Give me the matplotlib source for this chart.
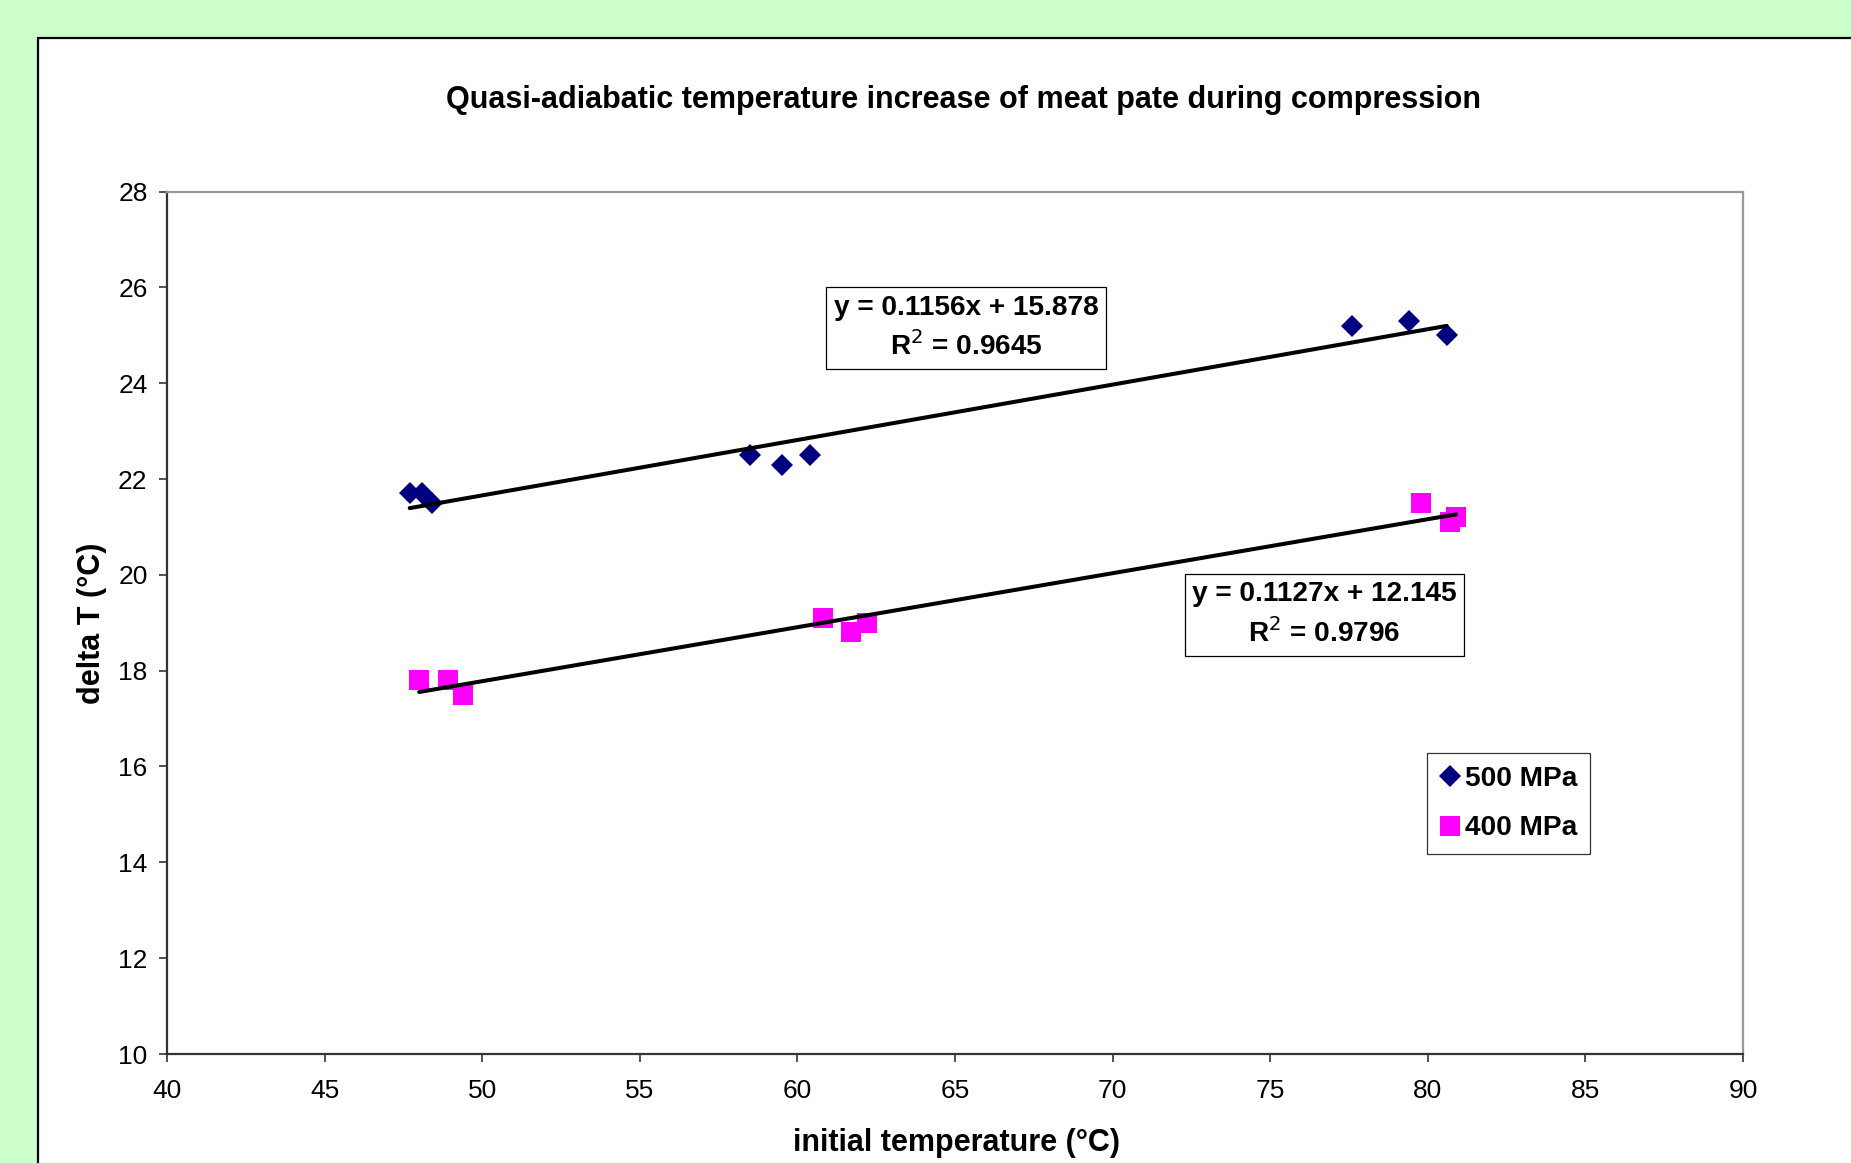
import numpy as np
import matplotlib
matplotlib.use("Agg")
import matplotlib.pyplot as plt
from matplotlib.patches import Rectangle

plt.rcParams['font.family'] = ['Liberation Sans', 'DejaVu Sans']

# 500 MPa series
x500 = [47.7, 48.1, 48.4, 58.5, 59.5, 60.4, 77.6, 79.4, 80.6]
y500 = [21.7, 21.7, 21.5, 22.5, 22.3, 22.5, 25.2, 25.3, 25.0]
# 400 MPa series
x400 = [48.0, 48.9, 49.4, 60.8, 61.7, 62.2, 79.8, 80.7, 80.9]
y400 = [17.8, 17.8, 17.5, 19.1, 18.8, 19.0, 21.5, 21.1, 21.2]

# trendline coefficients (slope, intercept, R^2)
fit500 = (0.1156, 15.878, 0.9645)
fit400 = (0.1127, 12.145, 0.9796)

xticks = list(range(40, 91, 5))
yticks = list(range(10, 29, 2))

W, H = 1851, 1163
fig = plt.figure(figsize=(W / 100, H / 100), dpi=100, facecolor='#CCFFCC')

# white chart area with black border
fig.patches.append(Rectangle((38 / W, -0.01), 1.0, 1 - 38 / H + 0.01,
                             transform=fig.transFigure, facecolor='white',
                             edgecolor='black', linewidth=1.6, zorder=-5))

ax = fig.add_axes([167 / W, 1 - 1054 / H, 1576 / W, 862.5 / H])
ax.set_facecolor('white')

ax.plot(x500, y500, linestyle='none', marker='D', markersize=10.8, mew=0,
        color='#000080', label='500 MPa', zorder=3)
ax.plot(x400, y400, linestyle='none', marker='s', markersize=14.5, mew=0,
        color='#FF00FF', label='400 MPa', zorder=3)

for xs, (m, b, r2) in [(x500, fit500), (x400, fit400)]:
    xl = np.array([min(xs), max(xs)])
    ax.plot(xl, m * xl + b, color='black', linewidth=2.9, zorder=4,
            solid_capstyle='round')

ax.text(65.35, 25.15, 'y = %.4fx + %.3f\nR$^2$ = %.4f' % fit500,
        ha='center', va='center', fontsize=20.2, fontweight='bold',
        linespacing=1.45, zorder=5,
        bbox=dict(boxstyle='square,pad=0.27', fc='white', ec='black', lw=0.9))
ax.text(76.72, 19.17, 'y = %.4fx + %.3f\nR$^2$ = %.4f' % fit400,
        ha='center', va='center', fontsize=20.2, fontweight='bold',
        linespacing=1.45, zorder=5,
        bbox=dict(boxstyle='square,pad=0.27', fc='white', ec='black', lw=0.9))

ax.set_xlim(40, 90)
ax.set_ylim(10, 28)
ax.set_xticks(xticks)
ax.set_yticks(yticks)
ax.tick_params(axis='both', labelsize=19, length=6, width=1.2, color='#333333',
               direction='out')
ax.tick_params(axis='x', pad=12)
ax.tick_params(axis='y', pad=8)

for s in ['left', 'bottom']:
    ax.spines[s].set_color('#333333')
    ax.spines[s].set_linewidth(1.6)
for s in ['top', 'right']:
    ax.spines[s].set_color('#999999')
    ax.spines[s].set_linewidth(1.6)

leg = ax.legend(loc='upper left', bbox_to_anchor=(0.7995, 0.349),
                prop={'size': 20.2, 'weight': 'bold'}, frameon=True,
                fancybox=False, borderpad=0.45, handletextpad=0.15,
                handlelength=0.75, labelspacing=0.85, borderaxespad=0)
leg.get_frame().set_edgecolor('black')
leg.get_frame().set_linewidth(0.9)

fig.text(963 / W, 1 - 100 / H,
         'Quasi-adiabatic temperature increase of meat pate during compression',
         ha='center', va='center', fontsize=22, fontweight='bold')
fig.text(956 / W, 1 - 1142.5 / H, 'initial temperature (°C)',
         ha='center', va='center', fontsize=22, fontweight='bold')
fig.text(92 / W, 1 - 623 / H, 'delta T (°C)', rotation=90,
         ha='center', va='center', fontsize=22, fontweight='bold')

fig.savefig('out.png', dpi=100, facecolor=fig.get_facecolor())
